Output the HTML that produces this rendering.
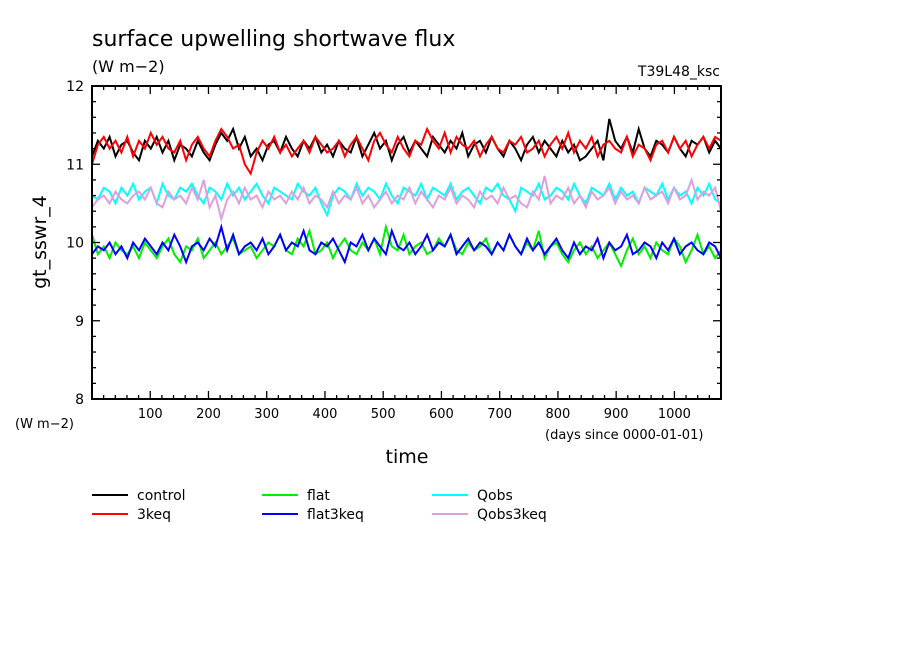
<!DOCTYPE html>
<html><head><meta charset="utf-8"><style>
body{margin:0;background:#fff;}
svg{display:block;font-family:"DejaVu Sans","Liberation Sans",sans-serif;}
</style></head><body>
<svg id="c" width="904" height="654">
<text x="92" y="46" font-size="22">surface upwelling shortwave flux</text>
<text x="92" y="72" font-size="16">(W m−2)</text>
<text x="720" y="76" font-size="14" text-anchor="end">T39L48_ksc</text>
<text x="15" y="428" font-size="13">(W m−2)</text>
<text x="545" y="439" font-size="13">(days since 0000-01-01)</text>
<text x="407" y="463" font-size="19" text-anchor="middle">time</text>
<text transform="translate(46,242) rotate(-90)" font-size="19" text-anchor="middle">gt_sswr_4</text>
<g id="plot"></g><g id="axes"></g><g id="legend"></g>
</svg>
<script>
const xTicks=[100,200,300,400,500,600,700,800,900,1000];
const yTicks=[8,9,10,11,12];
const seriesNames=["control","3keq","flat","flat3keq","Qobs","Qobs3keq"];
const seriesColors=["#000000","#ff0000","#00ee00","#0000ff","#00ffff","#dda0dd"];
const control=[11.1,11.3,11.2,11.35,11.1,11.25,11.3,11.15,11.05,11.3,11.2,11.35,11.15,11.3,11.05,11.25,11.2,11.1,11.3,11.15,11.05,11.25,11.4,11.3,11.45,11.2,11.35,11.1,11.2,11.05,11.25,11.3,11.15,11.35,11.2,11.1,11.3,11.2,11.35,11.15,11.25,11.1,11.3,11.2,11.15,11.35,11.1,11.25,11.4,11.2,11.3,11.05,11.25,11.35,11.15,11.3,11.2,11.1,11.35,11.25,11.15,11.3,11.2,11.4,11.1,11.25,11.3,11.15,11.35,11.2,11.1,11.3,11.2,11.05,11.25,11.35,11.15,11.3,11.2,11.1,11.3,11.15,11.25,11.05,11.1,11.2,11.3,11.05,11.58,11.3,11.2,11.35,11.15,11.45,11.2,11.1,11.3,11.25,11.15,11.35,11.2,11.1,11.3,11.25,11.35,11.15,11.3,11.2];
const keq3=[11.0,11.25,11.35,11.2,11.3,11.15,11.35,11.1,11.3,11.2,11.4,11.25,11.35,11.2,11.15,11.3,11.05,11.25,11.35,11.2,11.1,11.3,11.45,11.35,11.2,11.25,11.0,10.88,11.15,11.3,11.2,11.35,11.15,11.25,11.1,11.2,11.3,11.15,11.35,11.25,11.15,11.2,11.3,11.1,11.25,11.35,11.2,11.05,11.3,11.4,11.25,11.15,11.35,11.2,11.1,11.3,11.25,11.45,11.3,11.2,11.4,11.15,11.35,11.25,11.2,11.3,11.1,11.25,11.35,11.2,11.15,11.3,11.25,11.35,11.15,11.2,11.3,11.1,11.25,11.35,11.2,11.4,11.15,11.3,11.2,11.35,11.1,11.25,11.3,11.2,11.15,11.35,11.1,11.25,11.2,11.05,11.25,11.3,11.15,11.35,11.2,11.3,11.1,11.25,11.35,11.2,11.35,11.3];
const flat=[10.1,9.85,9.95,9.8,10.0,9.9,9.85,9.95,9.8,10.0,9.9,9.8,9.95,10.05,9.85,9.75,9.95,9.9,10.05,9.8,9.9,10.0,9.85,9.95,10.05,9.85,9.9,9.95,9.8,9.9,10.0,9.95,10.1,9.9,9.85,10.05,9.95,10.15,9.85,9.9,10.0,9.8,9.95,10.05,9.9,9.85,10.0,9.9,10.05,9.85,10.2,9.95,9.9,10.1,9.85,9.95,10.0,9.85,9.9,10.05,9.95,10.1,9.9,9.85,10.0,9.9,9.95,10.05,9.85,10.0,9.9,10.1,9.95,9.85,10.0,9.9,10.15,9.8,9.95,10.0,9.85,9.75,9.9,10.0,9.85,9.95,9.8,9.9,10.0,9.85,9.7,9.9,10.05,9.85,9.95,9.8,10.0,9.9,9.85,10.05,9.95,9.75,9.9,10.1,9.85,9.95,9.8,9.9];
const flat3keq=[9.85,9.95,9.9,10.0,9.85,9.95,9.8,10.0,9.9,10.05,9.95,9.85,10.0,9.9,10.1,9.95,9.75,9.95,10.0,9.9,10.05,9.95,10.2,9.9,10.1,9.85,9.95,10.0,9.9,10.05,9.85,9.95,10.1,9.9,10.0,9.95,10.15,9.9,9.85,10.0,9.95,10.05,9.9,9.75,10.0,9.95,10.1,9.9,10.05,9.95,9.85,10.15,9.95,9.9,10.0,9.85,9.95,10.1,9.9,10.0,9.95,10.1,9.85,9.95,10.05,9.9,10.0,9.95,9.85,10.0,9.9,10.1,9.95,9.85,10.05,9.9,10.0,9.85,9.95,10.05,9.9,9.8,10.0,9.85,9.95,9.9,10.05,9.8,10.0,9.9,9.95,10.1,9.85,9.9,10.0,9.95,9.8,10.0,9.9,10.05,9.85,9.95,10.0,9.9,9.85,10.0,9.95,9.8];
const qobs=[10.6,10.55,10.7,10.65,10.5,10.7,10.6,10.75,10.55,10.65,10.7,10.5,10.75,10.6,10.55,10.7,10.65,10.75,10.6,10.5,10.7,10.65,10.55,10.75,10.6,10.7,10.55,10.65,10.75,10.6,10.5,10.7,10.65,10.6,10.55,10.75,10.65,10.6,10.7,10.5,10.35,10.6,10.7,10.65,10.55,10.75,10.6,10.7,10.65,10.55,10.75,10.6,10.5,10.7,10.65,10.6,10.75,10.55,10.7,10.65,10.6,10.75,10.55,10.65,10.7,10.6,10.5,10.7,10.65,10.75,10.6,10.55,10.4,10.7,10.65,10.6,10.75,10.55,10.6,10.7,10.65,10.55,10.75,10.6,10.5,10.7,10.65,10.6,10.75,10.55,10.7,10.6,10.65,10.5,10.7,10.65,10.6,10.75,10.55,10.7,10.6,10.65,10.5,10.7,10.6,10.75,10.55,10.5];
const qobs3keq=[10.45,10.55,10.6,10.5,10.65,10.55,10.5,10.6,10.65,10.55,10.7,10.5,10.45,10.65,10.55,10.6,10.5,10.7,10.55,10.8,10.45,10.6,10.3,10.55,10.65,10.5,10.7,10.55,10.6,10.45,10.65,10.55,10.6,10.5,10.65,10.55,10.7,10.5,10.6,10.55,10.45,10.65,10.5,10.6,10.55,10.7,10.5,10.6,10.45,10.55,10.65,10.5,10.6,10.55,10.7,10.5,10.65,10.55,10.45,10.6,10.55,10.7,10.5,10.6,10.55,10.45,10.65,10.55,10.6,10.5,10.7,10.55,10.6,10.5,10.45,10.65,10.55,10.85,10.5,10.6,10.55,10.7,10.5,10.6,10.45,10.65,10.55,10.6,10.7,10.5,10.65,10.55,10.6,10.5,10.7,10.55,10.6,10.65,10.5,10.7,10.55,10.6,10.8,10.55,10.65,10.6,10.7,10.4];
const allSeries=[control,keq3,flat,flat3keq,qobs,qobs3keq];
const X0=92,X1=721,Y0=399,Y1=86,XMAX=1080,YMIN=8,YMAX=12;
const xs=d=>X0+(X1-X0)*d/XMAX;
const ys=v=>Y0-(Y0-Y1)*(v-YMIN)/(YMAX-YMIN);
const NS="http://www.w3.org/2000/svg";
function mk(t,a){const e=document.createElementNS(NS,t);for(const k in a)e.setAttribute(k,a[k]);return e;}
const plot=document.getElementById('plot'),axes=document.getElementById('axes'),leg=document.getElementById('legend');
allSeries.forEach((s,si)=>{
 const step=XMAX/(s.length-1);
 const pts=s.map((v,i)=>xs(i*step).toFixed(1)+','+ys(v).toFixed(1)).join(' ');
 const p=mk('polyline',{points:pts,fill:'none',stroke:seriesColors[si],'stroke-width':2});
 
 
 plot.appendChild(p);
});
const box=mk('rect',{x:X0,y:Y1,width:X1-X0,height:Y0-Y1,fill:'none',stroke:'#000','stroke-width':2});


axes.appendChild(box);
for(let d=20;d<XMAX;d+=20){const L=d%100==0?8:4;
 axes.appendChild(mk('line',{x1:xs(d),x2:xs(d),y1:Y0,y2:Y0-L,stroke:'#000','stroke-width':1.3}));
 axes.appendChild(mk('line',{x1:xs(d),x2:xs(d),y1:Y1,y2:Y1+L,stroke:'#000','stroke-width':1.3}));}
for(let v=8.2;v<12;v+=0.2){const L=Math.abs(v-Math.round(v))<0.01?8:4;
 axes.appendChild(mk('line',{x1:X0,x2:X0+L,y1:ys(v),y2:ys(v),stroke:'#000','stroke-width':1.3}));
 axes.appendChild(mk('line',{x1:X1,x2:X1-L,y1:ys(v),y2:ys(v),stroke:'#000','stroke-width':1.3}));}
xTicks.forEach(t=>{const e=mk('text',{x:xs(t),y:418,'font-size':13,'text-anchor':'middle'});e.textContent=t;
 
 
 axes.appendChild(e);});
yTicks.forEach(t=>{const e=mk('text',{x:84,y:ys(t)+5,'font-size':14,'text-anchor':'end'});e.textContent=t;
 
 
 axes.appendChild(e);});
const order=[0,1,2,3,4,5];
order.forEach((si,k)=>{const col=Math.floor(k/2),row=k%2;const lx=92+col*170,ly=495+row*19;
 const g=mk('g',{});
 
 
 g.appendChild(mk('line',{x1:lx,x2:lx+36,y1:ly,y2:ly,stroke:seriesColors[si],'stroke-width':2}));
 const t=mk('text',{x:lx+45,y:ly+5,'font-size':14});t.textContent=seriesNames[si];g.appendChild(t);
 leg.appendChild(g);});
</script>
</body></html>
